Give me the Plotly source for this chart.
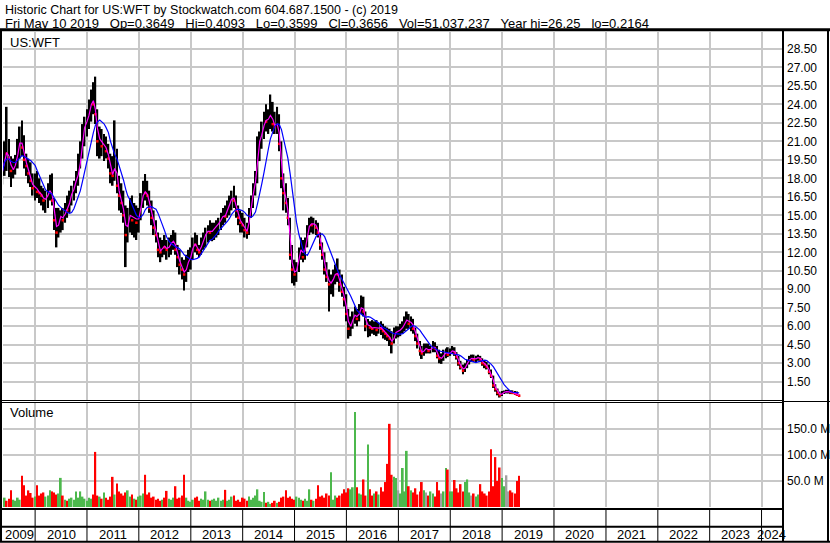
import pandas as pd
import plotly.graph_objects as go

W, H = 830, 543
FONT = "Arial, Liberation Sans, sans-serif"
GRID = "#c8c8c8"

# semi-monthly sampling, May 2009 -> May 2019
dates = pd.date_range("2009-05-15", "2019-05-01", freq="SMS")

high = [
    # 2009
    19.8, 21.0, 23.8, 21.2, 19.8, 19.6, 19.9, 21.2, 22.2, 22.7, 21.5, 20.0, 19.6, 19.3, 18.4,
    # 2010
    18.4, 18.6, 18.0, 17.4, 17.2, 17.0, 17.6, 18.3, 18.4, 16.4, 15.6, 15.6,
    15.4, 15.6, 16.0, 16.6, 17.0, 17.4, 17.8, 18.6, 20.0, 21.0, 22.4, 23.0,
    # 2011
    23.6, 24.4, 25.2, 25.8, 26.25, 23.6, 22.2, 22.0, 21.6, 21.4, 20.8, 20.0,
    19.8, 22.7, 20.4, 18.2, 17.6, 17.0, 15.8, 15.6, 16.4, 16.6, 16.0, 15.8,
    # 2012
    15.6, 16.8, 17.8, 18.35, 17.8, 17.0, 16.2, 15.4, 14.6, 13.6, 13.2, 13.0,
    13.4, 13.0, 13.2, 13.4, 13.8, 13.6, 12.6, 12.2, 11.6, 11.4, 11.8, 12.2,
    # 2013
    12.4, 13.2, 13.6, 13.4, 12.6, 13.2, 13.6, 14.0, 14.2, 14.6, 14.4, 14.4,
    14.6, 14.8, 15.2, 15.6, 15.8, 16.2, 16.6, 17.0, 17.4, 16.6, 15.8, 15.4,
    # 2014
    15.2, 14.8, 14.4, 15.6, 16.6, 17.6, 18.6, 21.4, 21.8, 22.6, 23.4, 24.0,
    23.6, 24.8, 24.2, 23.4, 23.8, 23.2, 21.0, 18.4, 17.6, 16.4, 14.8, 12.6,
    # 2015
    11.4, 11.2, 12.4, 13.2, 13.0, 13.2, 14.2, 14.8, 14.9, 14.8, 14.6, 14.4,
    13.6, 12.8, 12.0, 11.2, 10.6, 10.2, 10.6, 11.0, 11.5, 10.6, 10.2, 9.2,
    # 2016
    8.6, 7.4, 6.8, 7.2, 7.6, 7.4, 7.8, 8.5, 8.4, 7.2, 6.6, 6.4,
    6.5, 6.4, 6.5, 6.3, 6.4, 6.2, 6.0, 5.9, 5.8, 5.6, 5.9, 6.0,
    # 2017
    6.0, 6.2, 6.4, 6.8, 7.2, 7.0, 6.8, 6.6, 5.9, 5.4, 4.8, 4.4,
    4.6, 4.6, 4.6, 4.4, 4.8, 4.7, 4.4, 4.1, 3.8, 4.1, 4.2, 4.3,
    # 2018
    4.2, 4.4, 4.3, 3.9, 3.6, 3.2, 2.9, 3.0, 3.3, 3.6, 3.7, 3.7,
    3.6, 3.7, 3.6, 3.4, 3.2, 3.1, 2.9, 2.5, 2.0, 1.3, 0.95, 0.7,
    # 2019
    0.75, 0.8, 0.85, 0.85, 0.8, 0.8, 0.75, 0.7, 0.45,
]

low = [
    # 2009
    17.5, 18.2, 18.6, 18.1, 17.3, 18.0, 18.3, 18.8, 19.6, 19.8, 18.8, 18.2, 17.6, 17.3, 16.6,
    # 2010
    16.2, 16.4, 16.0, 15.8, 15.4, 15.2, 15.6, 16.2, 15.8, 13.8, 12.4, 13.2,
    13.6, 13.8, 14.4, 14.8, 15.2, 15.8, 16.2, 16.8, 17.4, 18.8, 19.6, 20.6,
    # 2011
    21.4, 22.0, 22.6, 23.2, 22.4, 19.8, 19.6, 19.8, 19.4, 19.6, 18.8, 17.6,
    17.4, 17.8, 16.8, 15.4, 15.2, 14.4, 10.8, 12.8, 13.6, 13.4, 13.2, 13.0,
    # 2012
    13.6, 14.6, 15.6, 16.2, 15.8, 15.2, 14.2, 13.4, 12.8, 11.6, 11.2, 11.6,
    11.8, 11.4, 11.6, 11.8, 12.2, 11.8, 10.8, 10.2, 9.8, 8.9, 9.6, 10.4,
    # 2013
    10.6, 11.4, 12.0, 11.8, 11.6, 11.8, 12.2, 12.4, 12.8, 13.0, 12.9, 13.0,
    13.2, 13.4, 13.8, 14.2, 14.4, 14.8, 15.0, 15.4, 15.6, 14.8, 14.2, 13.6,
    # 2014
    13.6, 13.2, 13.1, 13.4, 14.8, 15.6, 16.6, 17.6, 19.4, 20.4, 21.2, 21.8,
    21.6, 22.0, 21.8, 21.6, 21.6, 20.2, 17.2, 15.4, 15.2, 14.2, 11.4, 9.5,
    # 2015
    9.3, 9.6, 10.4, 11.4, 11.2, 11.4, 12.4, 13.4, 13.6, 13.5, 13.4, 13.2,
    12.2, 11.4, 10.2, 9.6, 7.2, 8.6, 8.4, 9.4, 9.6, 8.8, 8.4, 7.6,
    # 2016
    6.4, 5.0, 5.2, 5.8, 6.2, 6.0, 6.4, 7.0, 6.8, 5.6, 5.1, 5.2,
    5.4, 5.3, 5.2, 5.4, 5.3, 5.0, 4.9, 4.8, 4.4, 3.8, 4.6, 5.0,
    # 2017
    5.1, 5.2, 5.4, 5.6, 5.8, 5.8, 5.6, 5.4, 4.8, 4.2, 3.6, 3.35,
    3.6, 3.8, 3.8, 3.8, 3.9, 3.9, 3.4, 3.0, 2.95, 3.2, 3.4, 3.5,
    # 2018
    3.6, 3.8, 3.6, 3.3, 2.8, 2.5, 2.1, 2.3, 2.6, 2.9, 3.1, 3.1,
    3.1, 3.2, 3.1, 2.8, 2.6, 2.5, 2.1, 1.8, 1.0, 0.7, 0.4, 0.22,
    # 2019
    0.35, 0.5, 0.55, 0.55, 0.5, 0.5, 0.45, 0.35, 0.3,
]

close = [
    # 2009
    18.5, 20.2, 20.0, 19.6, 18.6, 18.8, 19.3, 20.5, 21.2, 20.5, 19.5, 19.0, 18.4, 17.8, 17.2,
    # 2010
    17.4, 16.9, 16.8, 16.6, 16.2, 16.4, 16.8, 17.2, 16.2, 14.6, 13.6, 14.8,
    15.0, 14.6, 15.6, 15.4, 16.6, 16.8, 17.4, 18.0, 18.6, 19.8, 21.8, 22.4,
    # 2011
    22.8, 23.4, 24.6, 24.0, 23.2, 21.0, 21.4, 20.6, 20.8, 20.2, 19.6, 18.4,
    18.2, 19.4, 17.4, 16.6, 16.0, 15.0, 13.4, 14.8, 15.2, 14.6, 15.0, 14.4,
    # 2012
    15.0, 16.2, 17.0, 16.8, 16.6, 15.6, 14.8, 14.0, 13.4, 12.2, 12.0, 12.6,
    12.4, 12.2, 12.6, 12.8, 13.0, 12.2, 11.6, 11.0, 10.6, 10.2, 11.0, 11.4,
    # 2013
    11.8, 12.8, 12.6, 12.2, 12.0, 12.8, 13.2, 13.6, 13.8, 13.6, 13.8, 14.0,
    14.2, 14.4, 14.8, 15.0, 14.9, 15.8, 16.0, 16.6, 16.2, 15.4, 14.8, 14.4,
    # 2014
    14.2, 13.8, 13.6, 15.2, 16.0, 17.2, 18.2, 20.8, 21.2, 21.8, 22.8, 22.6,
    23.0, 23.2, 22.4, 22.2, 22.6, 20.8, 18.0, 16.8, 16.0, 14.8, 11.8, 10.6,
    # 2015
    10.2, 10.8, 12.0, 12.4, 11.6, 12.6, 13.8, 14.4, 14.2, 14.4, 14.0, 13.6,
    12.6, 11.8, 10.6, 10.0, 9.4, 9.6, 10.0, 10.4, 10.2, 9.4, 8.8, 8.2,
    # 2016
    7.0, 5.8, 6.2, 6.8, 7.0, 6.6, 7.4, 7.6, 7.2, 6.0, 6.2, 5.9,
    5.8, 6.0, 5.7, 6.0, 5.8, 5.6, 5.4, 5.2, 5.0, 4.6, 5.4, 5.6,
    # 2017
    5.6, 5.8, 6.0, 6.4, 6.6, 6.2, 6.4, 5.8, 5.2, 4.6, 4.0, 3.8,
    4.2, 4.2, 4.0, 4.2, 4.4, 4.2, 3.6, 3.4, 3.4, 3.8, 3.9, 3.7,
    # 2018
    3.9, 4.1, 3.8, 3.5, 3.0, 2.7, 2.4, 2.8, 3.1, 3.4, 3.4, 3.3,
    3.4, 3.5, 3.3, 3.0, 2.9, 2.7, 2.3, 2.0, 1.2, 0.9, 0.6, 0.4,
    # 2019
    0.6, 0.7, 0.7, 0.7, 0.65, 0.6, 0.55, 0.45, 0.37,
]

volume_m = [
    # 2009
    14, 18, 12, 16, 32, 14, 12, 18, 14, 60, 42, 22, 32, 27, 18,
    # 2010
    20, 42, 22, 26, 28, 20, 22, 32, 30, 28, 24, 26,
    56, 22, 14, 12, 16, 18, 14, 30, 18, 30, 20, 16,
    # 2011
    12, 18, 16, 24, 106, 22, 20, 16, 28, 18, 14, 20,
    58, 24, 45, 30, 26, 22, 28, 32, 20, 24, 16, 14,
    # 2012
    20, 22, 26, 62, 24, 28, 18, 20, 14, 16, 12, 14,
    18, 31, 16, 14, 18, 40, 16, 18, 22, 62, 18, 12,
    # 2013
    10, 14, 18, 20, 12, 16, 14, 30, 14, 12, 14, 16,
    12, 18, 12, 14, 33, 12, 14, 20, 22, 12, 14, 10,
    # 2014
    18, 16, 12, 20, 14, 18, 22, 34, 12, 10, 29, 8,
    10, 6, 8, 12, 8, 10, 18, 20, 32, 18, 20, 16,
    # 2015
    14, 20, 18, 14, 12, 16, 12, 34, 14, 12, 16, 42,
    20, 22, 18, 26, 22, 67, 14, 22, 18, 22, 26, 34,
    # 2016
    28, 36, 34, 38, 183, 38, 26, 24, 53, 22, 120, 34,
    22, 26, 30, 24, 38, 30, 48, 83, 160, 62, 58, 56,
    # 2017
    32, 26, 75, 30, 108, 40, 32, 28, 36, 24, 30, 48,
    32, 28, 22, 30, 26, 20, 48, 32, 26, 30, 75, 72,
    # 2018
    30, 30, 52, 36, 28, 44, 30, 48, 53, 28, 22, 26,
    20, 24, 44, 30, 26, 22, 30, 111, 40, 96, 50, 76,
    # 2019
    56, 40, 61, 30, 32, 28, 26, 50, 60,
]

years = list(range(2009, 2025))
price_ticks = [1.5 * k for k in range(1, 20)]
vol_ticks = [50e6, 100e6, 150e6]
vol_ticktext = ["50.0 M", "100.0 M", "150.0 M"]

header1 = "Historic Chart for US:WFT by Stockwatch.com 604.687.1500 - (c) 2019"
header2 = ("Fri May 10 2019   Op=0.3649   Hi=0.4093   Lo=0.3599   Cl=0.3656   "
           "Vol=51,037,237   Year hi=26.25   lo=0.2164").replace(" ", "\u00a0")

df = pd.DataFrame({"date": dates, "high": high, "low": low, "close": close, "vol": volume_m})
df["vol"] = df["vol"] * 1e6
df["ma_fast"] = df["close"].rolling(2, min_periods=1).mean()
df["ma_slow"] = df["close"].rolling(9, min_periods=1).mean()
chg = df["close"].diff().fillna(0)
vol_colors = ["#4cb84c" if c > 0 else ("#ff0000" if c < 0 else "#a0a0a0") for c in chg]
down = df[chg < 0]

x0 = pd.Timestamp("2009-05-20")
x1 = pd.Timestamp("2024-05-24")
bw = 12 * 86400000


def px(x):
    return x / W


def py(y):
    return 1 - y / H


fig = go.Figure()
fig.add_trace(go.Bar(
    x=df["date"], y=df["high"] - df["low"], base=df["low"], width=bw,
    marker=dict(color="black", line=dict(width=0)), xaxis="x", yaxis="y",
))
fig.add_trace(go.Scatter(
    x=down["date"], y=down["close"], mode="markers",
    marker=dict(symbol="square", size=2.5, color="#ff0000"), xaxis="x", yaxis="y",
))
fig.add_trace(go.Scatter(
    x=df["date"], y=df["ma_fast"], mode="lines",
    line=dict(color="#ff00ff", width=1.2), xaxis="x", yaxis="y",
))
fig.add_trace(go.Scatter(
    x=df["date"], y=df["ma_slow"], mode="lines",
    line=dict(color="#0000ff", width=1.2), xaxis="x", yaxis="y",
))
fig.add_trace(go.Bar(
    x=df["date"], y=df["vol"], width=bw,
    marker=dict(color=vol_colors, line=dict(width=0)), xaxis="x2", yaxis="y2",
))

xcommon = dict(
    domain=[px(3), px(782)], type="date", range=[x0, x1],
    tick0="2010-01-01", dtick="M12", showticklabels=False, ticks="",
    showgrid=True, gridcolor=GRID, gridwidth=1.5, zeroline=False, showline=False,
)
tickfont = dict(family=FONT, size=12, color="black")

# frame lines
shapes = []


def hline(y, xa, xb, w):
    shapes.append(dict(type="line", xref="paper", yref="paper", x0=px(xa), x1=px(xb),
                       y0=py(y), y1=py(y), line=dict(color="black", width=w)))


def vline(x, ya, yb, w):
    shapes.append(dict(type="line", xref="paper", yref="paper", x0=px(x), x1=px(x),
                       y0=py(ya), y1=py(yb), line=dict(color="black", width=w)))


hline(29.7, 0, W, 3)
hline(400.5, 0, 783, 1)
hline(402.5, 0, 783, 1)
hline(401.5, 783, W, 1)
hline(509, 0, 783, 2)
hline(526.8, 0, 783, 2)
hline(541.7, 0, W, 2)
vline(1, 29, 542, 2)
vline(783, 29, 542, 2)
vline(828, 29, 542, 2)
for y in years[1:]:
    shapes.append(dict(type="line", xref="x", yref="paper",
                       x0=pd.Timestamp(f"{y}-01-01"), x1=pd.Timestamp(f"{y}-01-01"),
                       y0=py(541), y1=py(510), line=dict(color="black", width=1)))

annotations = [
    dict(text=header1, x=px(3), y=py(9.5), xref="paper", yref="paper", xanchor="left",
         yanchor="middle", showarrow=False, font=dict(family=FONT, size=12.5, color="black")),
    dict(text=header2, x=px(3), y=py(23), xref="paper", yref="paper", xanchor="left",
         yanchor="middle", showarrow=False, font=dict(family=FONT, size=13, color="black")),
    dict(text="US:WFT", x=px(8), y=py(42), xref="paper", yref="paper", xanchor="left",
         yanchor="middle", showarrow=False, font=dict(family=FONT, size=13, color="black")),
    dict(text="Volume", x=px(8), y=py(413), xref="paper", yref="paper", xanchor="left",
         yanchor="middle", showarrow=False, font=dict(family=FONT, size=13, color="black")),
]
for y in years:
    a = max(pd.Timestamp(f"{y}-01-01"), x0)
    b = min(pd.Timestamp(f"{y + 1}-01-01"), x1)
    annotations.append(dict(text=str(y), x=a + (b - a) / 2, y=py(534.5), xref="x", yref="paper",
                            xanchor="center", yanchor="middle", showarrow=False,
                            font=dict(family=FONT, size=13, color="black")))

fig.update_layout(
    width=W, height=H,
    margin=dict(l=0, r=0, t=0, b=0, autoexpand=False),
    paper_bgcolor="white", plot_bgcolor="white",
    showlegend=False, barmode="overlay",
    xaxis=dict(anchor="y", **xcommon),
    xaxis2=dict(anchor="y2", matches="x", **xcommon),
    yaxis=dict(
        domain=[py(400), py(32)], range=[0.02, 29.87], anchor="x", side="right",
        tickvals=price_ticks, tickformat=".2f", ticks="", ticklabelstandoff=4,
        showgrid=True, gridcolor=GRID, gridwidth=1.5, zeroline=False, showline=False,
        tickfont=tickfont,
    ),
    yaxis2=dict(
        domain=[py(507), py(402)], range=[0, 2.02e8], anchor="x2", side="right",
        tickvals=vol_ticks, ticktext=vol_ticktext, ticks="", ticklabelstandoff=4,
        showgrid=True, gridcolor=GRID, gridwidth=1.5, zeroline=False, showline=False,
        tickfont=tickfont,
    ),
    shapes=shapes,
    annotations=annotations,
)

fig.write_html(
    "out.html",
    config={"displayModeBar": False},
    post_script="document.body.style.margin='0px';document.body.style.overflow='hidden';",
)
